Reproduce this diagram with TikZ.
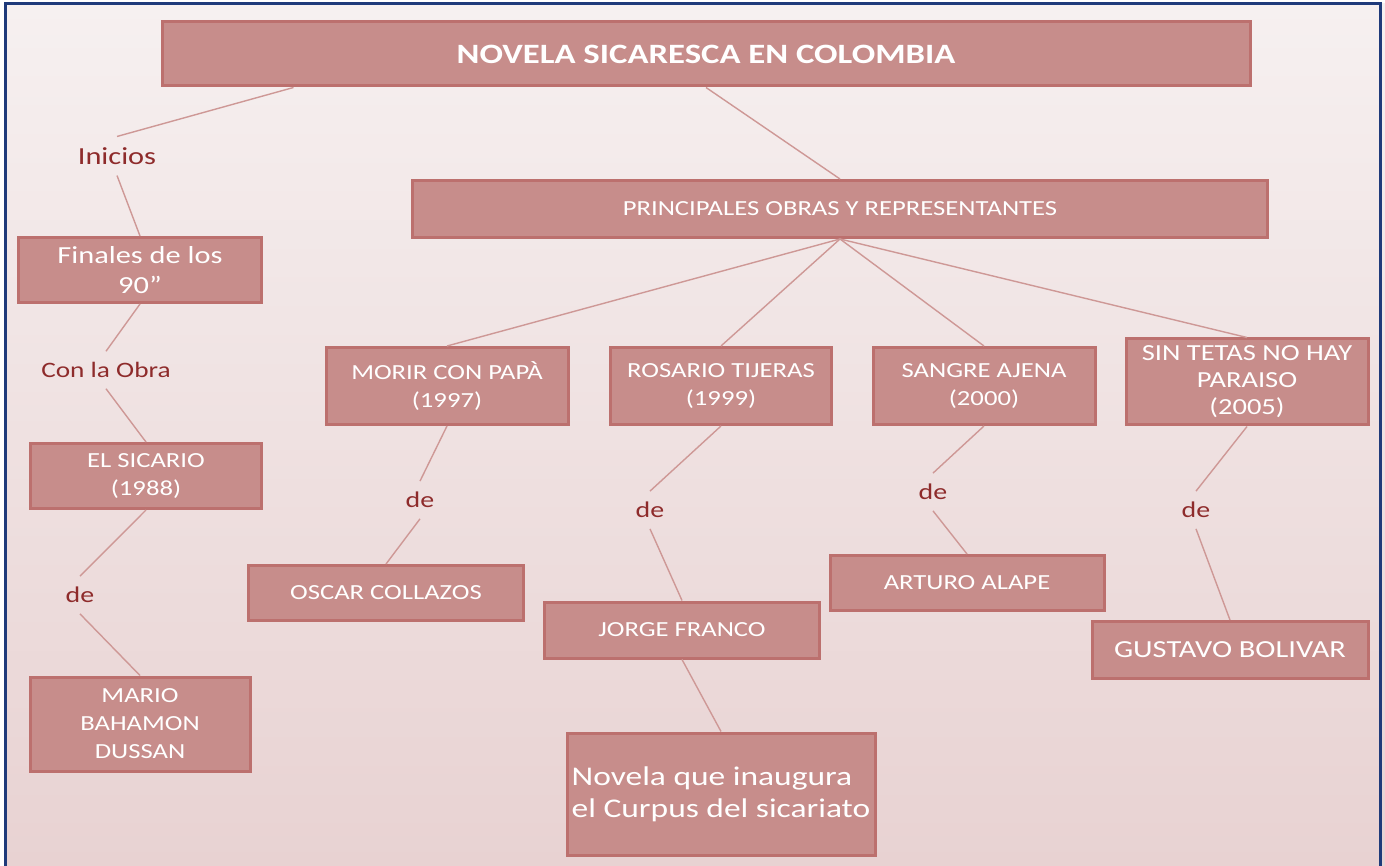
\documentclass[tikz,border=0pt]{standalone}
\usepackage{fontspec}
\setmainfont[FakeStretch=1.24]{Carlito}
\usetikzlibrary{positioning}
\definecolor{boxfill}{HTML}{C78D8B}
\definecolor{boxline}{HTML}{BC706E}
\definecolor{linkline}{HTML}{CE9896}
\definecolor{labelred}{HTML}{8E2B2B}
\definecolor{framblue}{HTML}{1F3A7A}
\definecolor{bgtop}{HTML}{F6F0F0}
\definecolor{bgbottom}{HTML}{E8D2D2}
\tikzset{
  conbox/.style={rectangle, draw=boxline, fill=boxfill, line width=3pt, text=white, align=center, font=\fontsize{21.5}{28}\selectfont, inner sep=0pt},
  conword/.style={text=labelred, font=\fontsize{22.5}{26}\selectfont, inner sep=0pt, outer sep=11pt},
  link/.style={draw=linkline, line width=1.4pt}
}

\begin{document}
\begin{tikzpicture}[x=1pt, y=-1pt]
	\useasboundingbox (0,0) rectangle (1385,866);
	\shade[top color=bgtop, bottom color=bgbottom] (5,4) rectangle (1385,866);
	\draw[framblue, line width=3pt] (5,880) -- (5,4) -- (1380,4) -- (1380,880);

	% boxes
	\node (title) [conbox, minimum width=1088pt, minimum height=64pt, font=\fontsize{28}{32}\selectfont\bfseries] at (706,54) {NOVELA SICARESCA EN COLOMBIA};
	\node (obras) [conbox, minimum width=855pt, minimum height=57pt] at (840,209) {PRINCIPALES OBRAS Y REPRESENTANTES};
	\node (finales) [conbox, minimum width=243pt, minimum height=65pt, font=\fontsize{24.5}{30}\selectfont] at (140,270) {Finales de los\\90”};
	\node (sicario) [conbox, minimum width=231pt, minimum height=65pt] at (146,476) {EL SICARIO\\(1988)};
	\node (mario) [conbox, minimum width=220pt, minimum height=94pt] at (140,724) {MARIO\\BAHAMON\\DUSSAN};
	\node (morir) [conbox, minimum width=242pt, minimum height=77pt] at (447,386) {MORIR CON PAPÀ\\(1997)};
	\node (rosario) [conbox, minimum width=221pt, minimum height=77pt] at (721,386) {ROSARIO TIJERAS\\(1999)};
	\node (sangre) [conbox, minimum width=222pt, minimum height=77pt] at (984,386) {SANGRE AJENA\\(2000)};
	\node (sintetas) [conbox, minimum width=242pt, minimum height=86pt, font=\fontsize{23}{27}\selectfont] at (1247,382) {SIN TETAS NO HAY\\PARAISO\\(2005)};
	\node (oscar) [conbox, minimum width=275pt, minimum height=55pt] at (386,593) {OSCAR COLLAZOS};
	\node (jorge) [conbox, minimum width=275pt, minimum height=56pt] at (682,630) {JORGE FRANCO};
	\node (arturo) [conbox, minimum width=274pt, minimum height=55pt] at (967,583) {ARTURO ALAPE};
	\node (gustavo) [conbox, minimum width=276pt, minimum height=57pt, font=\fontsize{24.5}{28}\selectfont] at (1230,650) {GUSTAVO BOLIVAR};
	\node (novela) [conbox, minimum width=308pt, minimum height=122pt, font=\fontsize{27}{32}\selectfont, align=left] at (721,794) {Novela que inaugura\\el Curpus del sicariato};

	% linking words
	\node (inicios) [conword, font=\fontsize{24.5}{28}\selectfont] at (117,156) {Inicios};
	\node (conobra) [conword, font=\fontsize{22}{26}\selectfont] at (106,370) {Con la Obra};
	\node (de1) [conword] at (80,595) {de};
	\node (de2) [conword] at (420,500) {de};
	\node (de3) [conword] at (650,510) {de};
	\node (de4) [conword] at (933,492) {de};
	\node (de5) [conword] at (1196,510) {de};

	% connectors
	\draw [link] ([xshift=133pt]title.south west) -- (inicios.north);
	\draw [link] (inicios.south) -- (finales.north);
	\draw [link] (finales.south) -- (conobra.north);
	\draw [link] (conobra.south) -- (sicario.north);
	\draw [link] (sicario.south) -- (de1.north);
	\draw [link] (de1.south) -- (mario.north);
	\draw [link] (title.south) -- (obras.north);
	\draw [link] (obras.south) -- (morir.north);
	\draw [link] (obras.south) -- (rosario.north);
	\draw [link] (obras.south) -- (sangre.north);
	\draw [link] (obras.south) -- (sintetas.north);
	\draw [link] (morir.south) -- (de2.north);
	\draw [link] (de2.south) -- (oscar.north);
	\draw [link] (rosario.south) -- (de3.north);
	\draw [link] (de3.south) -- (jorge.north);
	\draw [link] (jorge.south) -- (novela.north);
	\draw [link] (sangre.south) -- (de4.north);
	\draw [link] (de4.south) -- (arturo.north);
	\draw [link] (sintetas.south) -- (de5.north);
	\draw [link] (de5.south) -- (gustavo.north);

\end{tikzpicture}
\end{document}
